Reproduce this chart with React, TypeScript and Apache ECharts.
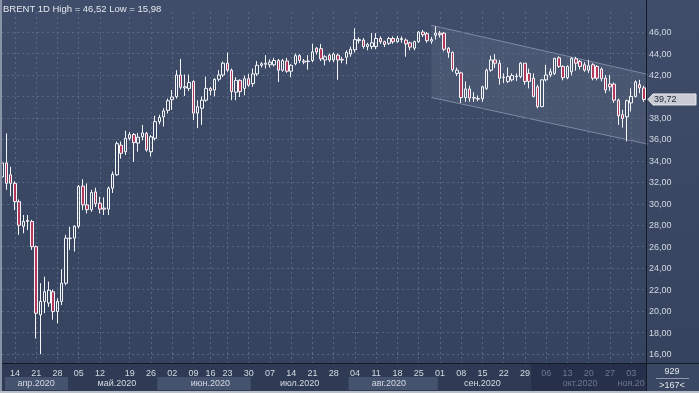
import React, { useEffect, useRef } from 'react';
import * as echarts from 'echarts';

// trading days per month (2020)
const aprDays = [8, 9, 13, 14, 15, 16, 17, 20, 21, 22, 23, 24, 27, 28, 29, 30];
const mayDays = [1, 4, 5, 6, 7, 8, 11, 12, 13, 14, 15, 18, 19, 20, 21, 22, 25, 26, 27, 28, 29];
const junDays = [1, 2, 3, 4, 5, 8, 9, 10, 11, 12, 15, 16, 17, 18, 19, 22, 23, 24, 25, 26, 29, 30];
const julDays = [1, 2, 3, 6, 7, 8, 9, 10, 13, 14, 15, 16, 17, 20, 21, 22, 23, 24, 27, 28, 29, 30, 31];
const augDays = [3, 4, 5, 6, 7, 10, 11, 12, 13, 14, 17, 18, 19, 20, 21, 24, 25, 26, 27, 28, 31];
const sepDays = [1, 2, 3, 4, 7, 8, 9, 10, 11, 14, 15, 16, 17, 18, 21, 22, 23, 24, 25, 28, 29, 30];
const octDays = [1, 2, 5, 6, 7, 8, 9, 12, 13, 14, 15, 16, 19, 20, 21, 22, 23, 26, 27, 28, 29, 30];
const novDays = [2, 3, 4, 5, 6];
const monthDays = [aprDays, mayDays, junDays, julDays, augDays, sepDays, octDays, novDays];
const monthNumbers = [4, 5, 6, 7, 8, 9, 10, 11];
const monthNames = ['апр.2020', 'май.2020', 'июн.2020', 'июл.2020', 'авг.2020', 'сен.2020', 'окт.2020', 'ноя.20'];
const monthLabelSlots = [8, 27, 49, 70, 91, 113, 136, 148];

// weekly tick labels (slot index -> text)
const tickSlots = [3, 8, 13, 18, 23, 30, 35, 40, 45, 49, 53, 58, 63, 68, 73, 78, 83, 88, 93, 98, 103, 108, 113, 118, 123, 128, 133, 138, 143, 148];
const tickTexts = ['14', '21', '28', '05', '12', '19', '26', '02', '09', '16', '23', '30', '07', '14', '21', '28', '04', '11', '18', '25', '01', '08', '15', '22', '29', '06', '13', '20', '27', '03'];

// OHLC
const opens = [
  32.5, 33.8, 32.7, 31.9, 30.2, 27.9, 28.45, 28.35, 26.0, 19.65, 20.9, 20.75, 21.8, 19.95, 20.9, 22.6,
  26.75, 26.8, 27.9, 31.65, 29.9, 29.45, 31.1, 30.05, 29.6, 29.5, 31.45, 32.7, 35.45, 34.85, 36.1, 36.45, 35.65, 36.25, 36.55, 34.85, 36.1,
  37.65, 38.1, 38.7, 39.7, 39.98, 42.0, 40.8, 40.75, 41.4, 38.45, 38.9, 39.65, 40.75, 40.6, 41.6, 42.0, 43.1, 42.45, 40.4, 41.5, 40.75, 41.65,
  41.2, 42.1, 42.9, 43.0, 42.95, 42.95, 43.35, 42.45, 43.3, 42.35, 43.05, 43.8, 43.3, 43.25, 43.35, 44.5, 44.45, 43.4, 43.85, 43.4, 43.85, 43.45, 43.65,
  43.95, 44.35, 45.2, 45.25, 44.65, 44.65, 44.65, 45.4, 45.1, 44.95, 45.4, 45.1, 45.3, 45.25, 45.0, 44.5, 45.1, 46.0, 45.85, 45.15, 45.7,
  45.9, 45.9, 44.5, 44.1, 42.15, 42.2, 39.9, 40.7, 39.9, 39.8, 39.8, 40.75, 42.45, 43.4, 43.1, 41.8, 41.4, 41.55, 41.85, 41.85, 43.1, 42.15,
  41.7, 40.9, 39.05, 41.55, 42.0, 42.15, 43.6, 42.8, 41.75, 42.3, 43.5, 43.25, 42.95, 42.45, 42.95, 42.8, 42.55, 41.7, 41.15, 41.15, 39.65, 38.3,
  38.1, 39.4, 40.0, 41.1, 40.8,
];
const closes = [
  33.8, 31.9, 31.9, 30.2, 28.0, 28.35, 28.35, 26.0, 19.8, 20.9, 21.8, 21.95, 19.95, 20.9, 22.6, 26.8,
  26.8, 27.9, 31.6, 29.9, 29.45, 31.05, 30.0, 29.5, 29.5, 31.45, 32.75, 35.6, 34.7, 36.1, 36.45, 35.7, 36.2, 36.6, 35.0, 36.25, 37.65,
  38.05, 38.65, 39.6, 39.95, 42.0, 40.85, 40.9, 41.3, 38.45, 39.05, 39.65, 40.75, 40.55, 41.6, 42.0, 43.1, 42.45, 40.45, 41.5, 40.45, 41.65, 41.05,
  42.1, 42.9, 43.05, 43.1, 43.2, 43.35, 42.45, 43.35, 42.35, 42.9, 43.8, 43.35, 43.2, 43.3, 44.15, 44.15, 43.5, 43.7, 43.4, 43.95, 43.4, 43.4, 44.1,
  44.4, 45.3, 45.3, 44.65, 44.85, 45.0, 45.4, 45.1, 44.85, 45.4, 45.1, 45.4, 45.4, 44.9, 44.6, 45.1, 46.0, 45.75, 45.2, 45.3, 45.9,
  45.75, 44.4, 44.1, 42.5, 42.45, 39.9, 40.7, 39.85, 39.85, 39.75, 40.9, 42.45, 43.4, 43.1, 41.7, 41.75, 41.85, 41.95, 41.9, 43.1, 41.4, 41.4,
  40.0, 39.05, 41.55, 42.0, 42.3, 43.55, 42.8, 41.75, 42.8, 43.55, 43.1, 42.8, 42.45, 42.85, 41.7, 41.7, 41.65, 40.6, 40.9, 39.65, 38.2, 37.95,
  39.6, 40.0, 41.35, 40.8, 39.72,
];
const lows = [
  32.2, 31.3, 30.7, 29.4, 27.1, 27.25, 27.55, 25.7, 17.45, 15.98, 19.8, 20.4, 19.2, 18.85, 20.55, 22.4,
  25.7, 25.55, 27.7, 29.4, 29.1, 29.25, 29.7, 29.1, 28.95, 28.95, 31.0, 32.6, 34.2, 34.55, 35.9, 33.9, 34.85, 35.9, 34.85, 34.4, 35.9,
  37.4, 37.2, 38.4, 38.75, 39.8, 40.65, 40.05, 40.5, 37.8, 37.05, 37.35, 39.5, 40.1, 40.0, 41.4, 41.8, 42.3, 39.65, 39.65, 39.95, 40.1, 40.9,
  40.9, 41.9, 42.7, 42.6, 42.7, 42.8, 41.35, 42.3, 42.2, 41.8, 42.9, 43.1, 43.0, 42.5, 43.2, 43.9, 43.3, 42.9, 43.2, 43.2, 41.55, 43.1, 43.0,
  43.7, 44.1, 44.95, 44.45, 44.3, 44.4, 44.4, 44.9, 44.6, 44.8, 44.9, 45.0, 45.0, 43.7, 44.3, 44.3, 45.0, 45.55, 45.0, 44.9, 45.3,
  45.5, 44.2, 43.6, 42.3, 41.9, 39.4, 39.5, 39.5, 39.5, 39.55, 39.5, 40.6, 42.3, 42.65, 41.1, 41.25, 41.25, 41.4, 41.45, 41.7, 41.1, 40.75,
  39.9, 38.9, 39.0, 41.4, 41.8, 42.0, 42.65, 41.5, 41.6, 41.95, 42.4, 42.5, 42.3, 42.2, 41.5, 41.5, 41.4, 40.3, 40.5, 39.4, 37.35, 37.1,
  35.8, 38.6, 39.9, 40.3, 39.5,
];
const highs = [
  34.0, 36.55, 33.45, 32.1, 30.4, 28.95, 28.95, 28.5, 26.1, 22.6, 23.2, 22.75, 22.0, 21.2, 23.9, 27.1,
  27.85, 28.0, 31.75, 32.3, 31.9, 31.3, 31.5, 30.65, 30.6, 31.6, 33.0, 35.8, 35.8, 36.8, 36.7, 36.6, 36.6, 37.35, 36.7, 36.4, 38.2,
  38.3, 38.9, 39.8, 40.6, 42.45, 43.5, 42.05, 42.05, 41.5, 39.65, 40.0, 41.85, 40.9, 41.7, 42.45, 43.25, 44.1, 42.6, 41.8, 41.6, 41.95, 42.1,
  42.6, 43.3, 43.2, 43.85, 43.45, 43.6, 43.5, 43.5, 43.6, 43.0, 44.0, 43.95, 43.5, 43.85, 44.9, 44.6, 44.9, 43.85, 44.0, 44.1, 44.0, 43.7, 44.3,
  44.65, 46.35, 45.5, 45.45, 45.0, 45.9, 45.9, 45.6, 45.2, 45.55, 45.6, 45.65, 45.6, 45.4, 45.1, 45.2, 46.1, 46.2, 46.0, 45.55, 46.52,
  46.1, 46.0, 44.6, 44.2, 42.7, 42.3, 41.4, 41.0, 40.4, 40.1, 41.0, 42.6, 43.8, 43.95, 43.4, 42.15, 42.7, 42.15, 42.15, 43.2, 43.1, 42.6,
  42.15, 41.1, 41.6, 42.95, 42.6, 43.6, 43.75, 42.9, 42.9, 43.65, 43.7, 43.4, 43.2, 43.4, 43.1, 42.9, 42.7, 42.0, 42.0, 41.3, 39.8, 38.75,
  39.7, 40.75, 41.5, 41.55, 41.0,
];

// trend channel (slot index, price)
const channelX = [101, 151.5];
const channelTop = [46.63, 42.05];
const channelBottom = [39.9, 35.55];

const lastPrice = 39.72;
const titleText = 'BRENT 1D High = 46,52 Low = 15,98';
const volumeText = '929';
const scaleText = '>167<';

const FONT = '"Liberation Sans", Arial, sans-serif';

export default function App() {
  const ref = useRef<HTMLDivElement>(null);
  useEffect(() => {
    const el = ref.current!;
    const chart = echarts.init(el, null, { renderer: 'svg' });
    const categories: string[] = [];
    monthDays.forEach((days, mi) => days.forEach((d) => categories.push(`2020-${monthNumbers[mi]}-${d}`)));
    const candles = opens.map((o, i) => [o, closes[i], lows[i], highs[i]]);
    const tickMap = new Map<number, string>(tickSlots.map((s, i) => [s, tickTexts[i]]));
    const monthMap = new Map<number, string>(monthLabelSlots.map((s, i) => [s, monthNames[i]]));
    const dimFrom = categories.indexOf('2020-10-1');

    const W = 699, H = 393;
    const plotRight = 646;
    const axisTop = 363;
    const slotW = plotRight / (categories.length);
    const gridLeft = slotW / 2;
    const gridRight = W - (plotRight - slotW / 2);

    chart.setOption({
      animation: false,
      title: {
        text: titleText, left: 3, top: 3, padding: 0,
        textStyle: { color: '#e4e8ee', fontSize: 9.5, fontWeight: 'normal', fontFamily: FONT },
      },
      grid: { left: gridLeft, right: gridRight, top: 12, bottom: H - axisTop, containLabel: false, outerBoundsMode: 'none' },
      xAxis: [
        {
          type: 'category', data: categories, boundaryGap: false, z: 3,
          axisLine: { show: true, onZero: false, lineStyle: { color: '#131926', width: 1 } },
          axisTick: { show: false },
          axisLabel: {
            interval: (i: number) => tickMap.has(i),
            formatter: (_v: string, i: number) => `{${i >= dimFrom ? 'd' : 'b'}|${tickMap.get(i) ?? ''}}`,
            margin: 5.5, fontFamily: FONT, fontSize: 9,
            rich: { b: { color: '#d3d9e2', fontSize: 9, fontFamily: FONT }, d: { color: '#6c7890', fontSize: 9, fontFamily: FONT } },
          },
          splitLine: {
            show: true, interval: (i: number) => tickMap.has(i),
            lineStyle: { color: '#586783', type: [2, 3], width: 1 },
          },
        },
        {
          type: 'category', data: categories, boundaryGap: false, position: 'bottom', offset: 11, z: 3,
          axisLine: { show: false }, axisTick: { show: false }, splitLine: { show: false },
          axisLabel: {
            interval: (i: number) => monthMap.has(i),
            formatter: (_v: string, i: number) => `{${i >= dimFrom ? 'd' : 'b'}|${monthMap.get(i) ?? ''}}`,
            margin: 4, fontFamily: FONT, fontSize: 9,
            rich: { b: { color: '#d3d9e2', fontSize: 9, fontFamily: FONT }, d: { color: '#6c7890', fontSize: 9, fontFamily: FONT } },
          },
        },
      ],
      yAxis: {
        type: 'value', position: 'right', min: 15.161, max: 47.87, splitNumber: 16, minInterval: 2, maxInterval: 2, z: 3,
        axisLine: { show: false }, axisTick: { show: false },
        axisLabel: {
          showMinLabel: false, showMaxLabel: false, margin: 5, color: '#d3d9e2', fontSize: 9, fontFamily: FONT,
          formatter: (v: number) => (Math.abs(v - lastPrice) < 1 ? '' : v.toFixed(2).replace('.', ',')),
        },
        splitLine: { show: true, showMinLine: false, showMaxLine: false, lineStyle: { color: '#586783', type: [2, 3], width: 1 } },
      },
      series: [
        {
          type: 'custom', z: 1, clip: false, silent: true,
          data: [[channelX[0], channelTop[0], channelBottom[0], channelX[1], channelTop[1], channelBottom[1]]],
          renderItem: (_p: any, api: any) => {
            const a = api.coord([api.value(0), api.value(1)]);
            const b = api.coord([api.value(3), api.value(4)]);
            const c = api.coord([api.value(3), api.value(5)]);
            const d = api.coord([api.value(0), api.value(2)]);
            return {
              type: 'group',
              children: [
                { type: 'polygon', shape: { points: [a, b, c, d] }, style: { fill: 'rgba(255,255,255,0.065)' } },
                { type: 'line', shape: { x1: a[0], y1: a[1], x2: b[0], y2: b[1] }, style: { stroke: 'rgba(185,196,215,0.5)', lineWidth: 1 } },
                { type: 'line', shape: { x1: d[0], y1: d[1], x2: c[0], y2: c[1] }, style: { stroke: 'rgba(185,196,215,0.5)', lineWidth: 1 } },
              ],
            };
          },
        },
        {
          type: 'candlestick', z: 5, clip: false, barWidth: 3,
          data: candles,
          itemStyle: {
            color: 'transparent', color0: '#b3375b',
            borderColor: '#f4f6f9', borderColor0: '#f4f6f9', borderWidth: 1,
          },
        },
      ],
    });

    const px = (i: number) => chart.convertToPixel({ xAxisIndex: 0 }, categories[i]) as number;
    const py = (v: number) => chart.convertToPixel({ yAxisIndex: 0 }, v) as number;
    const edge = (i: number) => (px(i - 1) + px(i)) / 2;
    const firstSlot = (mi: number) => categories.indexOf(`2020-${monthNumbers[mi]}-${monthDays[mi][0]}`);

    const monthBoxes = [0, 2, 4].map((mi) => {
      const x0 = mi === 0 ? 5 : edge(firstSlot(mi));
      const x1 = edge(firstSlot(mi + 1));
      return { type: 'rect', z: -3, shape: { x: x0, y: 377, width: x1 - x0, height: 13 }, style: { fill: '#45536f' } };
    });
    const darkX = edge(dimFrom);
    const ty = py(lastPrice);

    chart.setOption({
      graphic: {
        elements: [
          {
            type: 'rect', z: -6, silent: true, shape: { x: 0, y: 0, width: W, height: H },
            style: { fill: new echarts.graphic.LinearGradient(0, 0, 0, 1, [{ offset: 0, color: '#3f4d6a' }, { offset: 1, color: '#35425d' }]) },
          },
          { type: 'rect', z: -4, silent: true, shape: { x: 0, y: axisTop, width: plotRight, height: H - axisTop }, style: { fill: '#2f3b54' } },
          ...monthBoxes,
          { type: 'rect', z: -3, silent: true, shape: { x: darkX, y: axisTop, width: plotRight - darkX, height: H - axisTop }, style: { fill: '#26304a' } },
          { type: 'rect', z: -4, silent: true, shape: { x: plotRight, y: axisTop, width: W - plotRight, height: H - axisTop }, style: { fill: '#3a4762' } },
          { type: 'line', z: 20, silent: true, shape: { x1: 0, y1: axisTop + 0.5, x2: W, y2: axisTop + 0.5 }, style: { stroke: '#131926', lineWidth: 1 } },
          { type: 'line', z: 20, silent: true, shape: { x1: plotRight + 0.5, y1: 0, x2: plotRight + 0.5, y2: H }, style: { stroke: '#131926', lineWidth: 1 } },
          { type: 'rect', z: 20, silent: true, shape: { x: 0, y: 0, width: 2, height: H }, style: { fill: '#8893a8' } },
          { type: 'rect', z: 20, silent: true, shape: { x: 0, y: H - 2, width: W, height: 2 }, style: { fill: '#b9bfc9' } },
          {
            type: 'text', z: 20, silent: true, x: 672, y: 371,
            style: { text: volumeText, fill: '#e2e6ec', fontSize: 9, fontFamily: FONT, align: 'center', verticalAlign: 'middle' },
          },
          { type: 'line', z: 20, silent: true, shape: { x1: 656, y1: 378.5, x2: 689, y2: 378.5 }, style: { stroke: '#8e99ad', lineWidth: 1 } },
          {
            type: 'text', z: 20, silent: true, x: 672, y: 384.5,
            style: { text: scaleText, fill: '#e2e6ec', fontSize: 9, fontFamily: FONT, align: 'center', verticalAlign: 'middle' },
          },
          {
            type: 'polygon', z: 20, silent: true,
            shape: { points: [[648, ty], [653, ty - 5.5], [696, ty - 5.5], [696, ty + 5.5], [653, ty + 5.5]] },
            style: { fill: '#c9ccd2', stroke: '#e8eaee', lineWidth: 1 },
          },
          {
            type: 'text', z: 21, silent: true, x: 654, y: ty,
            style: { text: lastPrice.toFixed(2).replace('.', ','), fill: '#1b2333', fontSize: 9, fontFamily: FONT, verticalAlign: 'middle' },
          },
        ],
      },
    });

    return () => chart.dispose();
  }, []);
  return <div ref={ref} style={{ position: 'fixed', left: 0, top: 0, width: 699, height: 393 }} />;
}
